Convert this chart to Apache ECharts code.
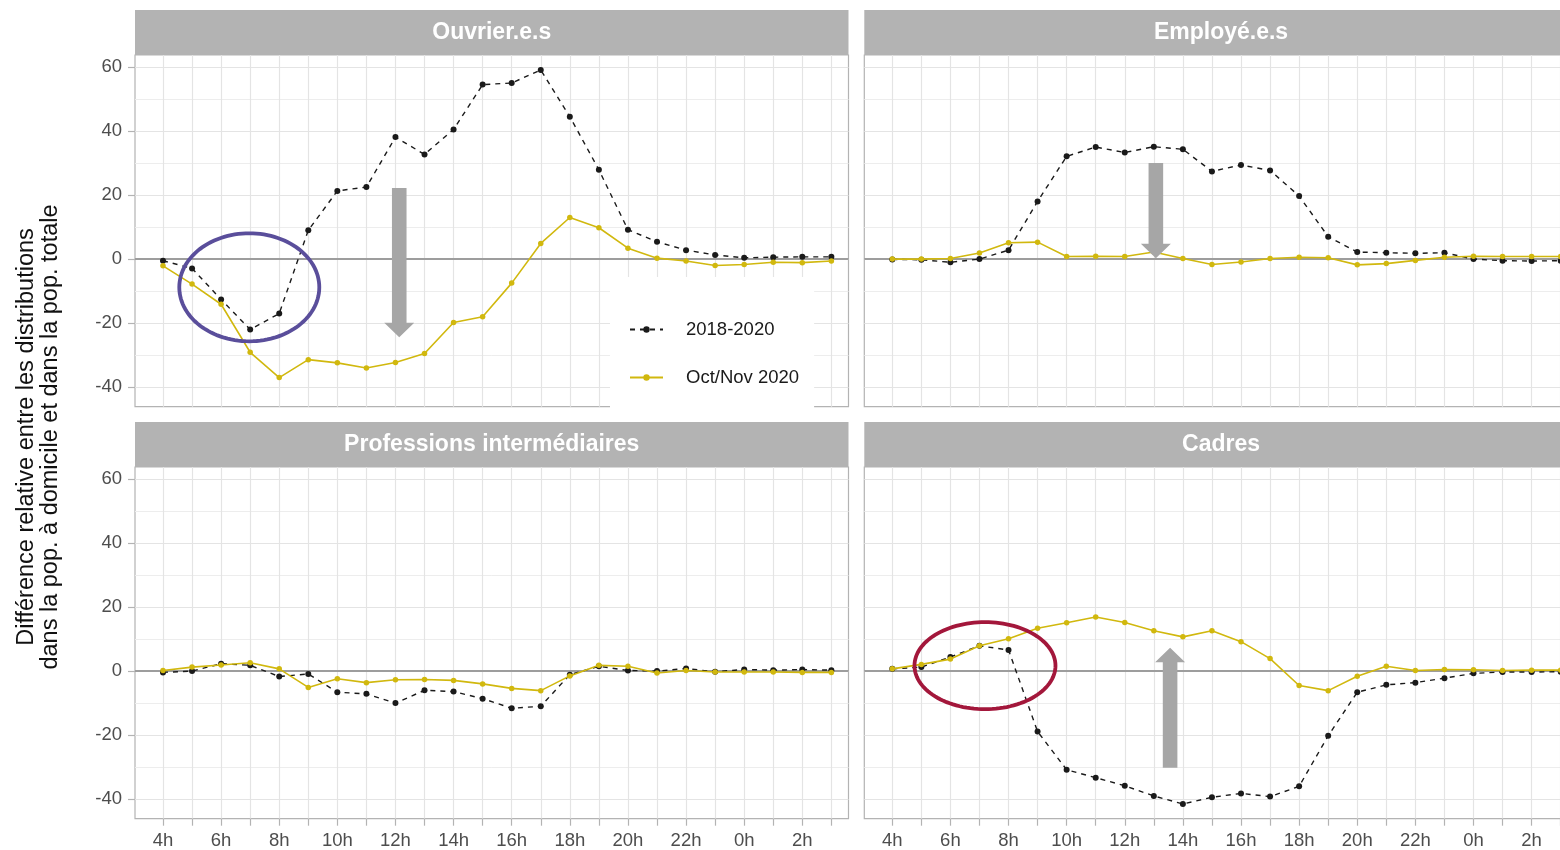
<!DOCTYPE html>
<html><head><meta charset="utf-8">
<script src="https://cdn.jsdelivr.net/npm/echarts@6/dist/echarts.min.js"></script>
<style>html,body{margin:0;padding:0;background:#fff}#c{width:1560px;height:850px}</style>
</head><body><div id="c"></div>
<script>
// ---- data ----
const hours = [4,5,6,7,8,9,10,11,12,13,14,15,16,17,18,19,20,21,22,23,0,1,2,3];
const hourLabels = hours.map(h => h + 'h');
const labelIdx = [0,2,4,6,8,10,12,14,16,18,20,22];
const tickIdx = hours.map((h, i) => i);
const panelTitles = ['Ouvrier.e.s', 'Employé.e.s', 'Professions intermédiaires', 'Cadres'];
const seriesNames = ['2018-2020', 'Oct/Nov 2020'];
const yTicks = [-40, -20, 0, 20, 40, 60];
const yMinor = [-30, -10, 10, 30, 50];

const ouvrier1820 = [-0.5,-2.9,-12.6,-22.0,-17.0,9.0,21.3,22.5,38.1,32.7,40.5,54.5,55.0,59.1,44.5,27.9,9.2,5.4,2.8,1.3,0.4,0.6,0.7,0.7];
const ouvrier2020 = [-2.1,-7.8,-14.1,-29.1,-37.0,-31.4,-32.4,-34.0,-32.3,-29.5,-19.8,-18.0,-7.5,4.9,13.0,9.8,3.4,0.3,-0.6,-2.0,-1.7,-1.0,-1.1,-0.6];
const employe1820 = [-0.1,-0.2,-1.0,0.0,2.8,18.0,32.1,35.0,33.3,35.1,34.3,27.4,29.4,27.7,19.7,7.0,2.2,2.0,1.8,2.0,0.0,-0.5,-0.6,-0.5];
const employe2020 = [0.0,0.0,0.2,1.9,5.1,5.3,0.8,0.9,0.8,2.2,0.2,-1.7,-0.9,0.2,0.6,0.4,-1.8,-1.4,-0.4,0.6,0.9,0.8,0.8,0.8];
const profint1820 = [-0.4,0.0,2.3,1.8,-1.7,-0.9,-6.6,-7.1,-10.0,-6.0,-6.4,-8.6,-11.6,-11.0,-1.1,1.5,0.2,0.0,0.8,-0.2,0.5,0.3,0.5,0.3];
const profint2020 = [0.2,1.25,1.9,2.6,0.7,-5.1,-2.4,-3.6,-2.7,-2.6,-2.9,-4.0,-5.4,-6.1,-1.5,1.8,1.5,-0.6,0.2,-0.3,-0.3,-0.3,-0.4,-0.4];
const cadres1820 = [0.7,1.25,4.4,7.9,6.6,-18.9,-30.8,-33.3,-35.8,-39.0,-41.5,-39.4,-38.2,-39.2,-36.0,-20.2,-6.6,-4.3,-3.6,-2.2,-0.7,-0.3,-0.3,-0.2];
const cadres2020 = [0.7,2.1,3.75,7.9,10.1,13.4,15.1,16.9,15.2,12.6,10.7,12.6,9.2,3.9,-4.5,-6.1,-1.6,1.5,0.2,0.5,0.4,0.2,0.3,0.3];

const panelData = [
  [ouvrier1820, ouvrier2020],
  [employe1820, employe2020],
  [profint1820, profint2020],
  [cadres1820, cadres2020]
];

// annotations (data coordinates of each panel)
const arrows = [
  {panel: 0, x: 8.13, from: 22.2, to: -24.4},
  {panel: 1, x: 9.07, from: 30.0, to: 0.3},
  {panel: 3, x: 9.56, from: -30.2, to: 7.3}
];
const ellipses = [
  {panel: 0, x: 2.97, y: -8.8, color: '#5a4e9b', rx: 70, ry: 54},
  {panel: 3, x: 3.19, y: 1.7, color: '#a3173b', rx: 70.5, ry: 43.5}
];

// ---- layout ----
const FONT = '"Liberation Sans", Arial, sans-serif';
const W = 1560;
const colL = 135, colR = 864.3, panelW = 713.5;
const rowT = [55, 467], panelH = 351.7, stripH = 45;
const xMin = -0.963, xMax = 23.59;
const yMin = -46.1, yMax = 63.75;
const BLACK = '#1a1a1a', YELLOW = '#d1b80e';

const grids = [], xAxes = [], yAxes = [], series = [], graphics = [];
for (let p = 0; p < 4; p++) {
  const col = p % 2, row = Math.floor(p / 2);
  const left = col === 0 ? colL : colR;
  const top = rowT[row];
  grids.push({left: left, width: panelW, top: top, height: panelH, show: true,
    outerBoundsMode: 'none', containLabel: false,
    borderColor: '#b3b3b3', borderWidth: 1.2, backgroundColor: 'transparent'});
  const showX = row === 1, showY = col === 0;
  xAxes.push({gridIndex: p, type: 'value', min: xMin, max: xMax, position: 'bottom',
    axisLine: {show: false, onZero: false},
    axisTick: {show: showX, customValues: tickIdx, length: 7, lineStyle: {color: '#b3b3b3', width: 1.2}},
    axisLabel: {show: showX, customValues: labelIdx, formatter: v => hourLabels[Math.round(v)],
      fontSize: 18.5, color: '#4d4d4d', fontFamily: FONT, margin: 13},
    splitLine: {show: true, lineStyle: {color: '#e4e4e4', width: 1.2}}
  });
  yAxes[p] = {gridIndex: p, type: 'value', min: yMin, max: yMax, position: 'left',
    axisLine: {show: false, onZero: false},
    axisTick: {show: showY, customValues: yTicks, length: 7, lineStyle: {color: '#b3b3b3', width: 1.2}},
    axisLabel: {show: showY, customValues: yTicks, fontSize: 18.5, color: '#4d4d4d', fontFamily: FONT, margin: 13},
    splitLine: {show: true, lineStyle: {color: '#e4e4e4', width: 1.2}}
  };
  yAxes[4 + p] = {gridIndex: p, type: 'value', min: yMin, max: yMax, position: 'left',
    axisLine: {show: false, onZero: false},
    axisTick: {show: false, customValues: yMinor},
    axisLabel: {show: false, customValues: yMinor},
    splitLine: {show: true, lineStyle: {color: '#ededed', width: 1}}
  };
  const [d1, d2] = panelData[p];
  series.push({type: 'line', name: seriesNames[0], xAxisIndex: p, yAxisIndex: p,
    data: d1.map((v, i) => [i, v]), symbol: 'circle', symbolSize: 6, showSymbol: true,
    lineStyle: {color: BLACK, width: 1.4, type: [5, 5]}, itemStyle: {color: BLACK},
    z: 3, animation: false,
    markLine: {silent: true, symbol: 'none', label: {show: false}, z: 2,
      lineStyle: {color: '#9d9d9d', width: 2, type: 'solid'}, data: [{yAxis: 0}], animation: false}
  });
  series.push({type: 'line', name: seriesNames[1], xAxisIndex: p, yAxisIndex: p,
    data: d2.map((v, i) => [i, v]), symbol: 'circle', symbolSize: 5.5, showSymbol: true,
    lineStyle: {color: YELLOW, width: 1.6}, itemStyle: {color: YELLOW},
    z: 4, animation: false
  });
  // strip
  graphics.push({type: 'rect', shape: {x: left, y: top - stripH, width: panelW, height: stripH},
    style: {fill: '#b3b3b3'}, z: 1, silent: true});
  graphics.push({type: 'text', x: left + panelW / 2, y: top - stripH / 2 + 0.5,
    style: {text: panelTitles[p], fill: '#ffffff', font: 'bold 23px ' + FONT, align: 'center', verticalAlign: 'middle'},
    z: 2, silent: true});
}

// y-axis title
graphics.push({type: 'text', x: 39, y: 437, rotation: Math.PI / 2,
  style: {text: 'Différence relative entre les distributions\ndans la pop. à domicile et dans la pop. totale',
    fill: '#111', font: '23.5px ' + FONT, align: 'center', verticalAlign: 'middle', lineHeight: 24},
  silent: true});

const chart = echarts.init(document.getElementById('c'), null, {renderer: 'canvas'});
const option = {
  backgroundColor: '#ffffff',
  animation: false,
  grid: grids, xAxis: xAxes, yAxis: yAxes, series: series,
  legend: {data: seriesNames, orient: 'vertical', left: 610, top: 277,
    backgroundColor: '#ffffff', padding: [43, 15, 28, 19], itemWidth: 33, itemHeight: 8, itemGap: 29,
    textStyle: {fontSize: 18.5, color: '#1a1a1a', fontFamily: FONT, padding: [0, 0, 0, 18]},
    selectedMode: false, z: 10},
  graphic: graphics
};
chart.setOption(option);

// annotations placed through the grid's scales
const ann = [];
arrows.forEach(a => {
  const p1 = chart.convertToPixel({gridIndex: a.panel}, [a.x, a.from]);
  const p2 = chart.convertToPixel({gridIndex: a.panel}, [a.x, a.to]);
  const x = p1[0], y1 = p1[1], y2 = p2[1];
  const dir = Math.sign(y2 - y1), sw = 7.3, hw = 15, hl = 14.5;
  const yb = y2 - dir * hl;
  ann.push({type: 'polygon', shape: {points: [[x - sw, y1], [x + sw, y1], [x + sw, yb], [x + hw, yb], [x, y2], [x - hw, yb], [x - sw, yb]]},
    style: {fill: '#a6a6a6'}, z: 20, silent: true});
});
ellipses.forEach(e => {
  const c = chart.convertToPixel({gridIndex: e.panel}, [e.x, e.y]);
  const pts = [];
  for (let k = 0; k < 120; k++) {
    const t = k / 120 * Math.PI * 2;
    pts.push([c[0] + e.rx * Math.cos(t), c[1] + e.ry * Math.sin(t)]);
  }
  ann.push({type: 'polygon', shape: {points: pts}, style: {fill: 'none', stroke: e.color, lineWidth: 3.8}, z: 21, silent: true});
});
chart.setOption({graphic: graphics.concat(ann)});
</script></body></html>
